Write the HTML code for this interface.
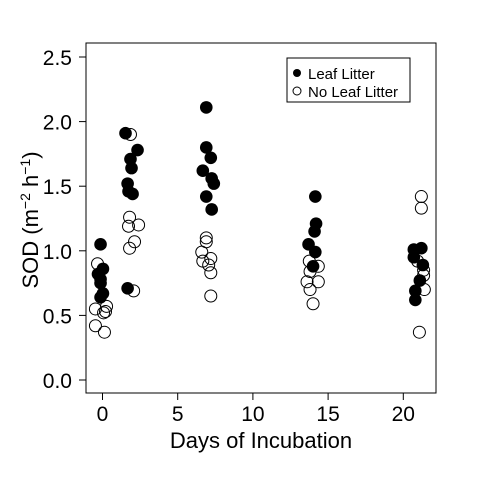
<!DOCTYPE html>
<html><head><meta charset="utf-8"><style>
body{margin:0;background:#fff}
svg{display:block;font-family:"Liberation Sans",Arial,sans-serif}
</style></head><body>
<svg id="chart" width="480" height="480">
<rect x="86" y="43" width="350" height="350" fill="none" stroke="#000" stroke-width="1"/>
<g id="xaxis"></g>
<g id="yaxis"></g>
<text x="261" y="448" font-size="22" text-anchor="middle">Days of Incubation</text>
<text transform="translate(38,220) rotate(-90)" font-size="22" text-anchor="middle">SOD (m<tspan dy="-8" font-size="14">−2</tspan><tspan dy="8"> h</tspan><tspan dy="-8" font-size="14">−1</tspan><tspan dy="8">)</tspan></text>
<g id="pts"></g>
<g>
<rect x="287" y="58" width="123" height="44" fill="#fff" stroke="#000"/>
<circle cx="297" cy="73" r="4" fill="#000"/>
<text x="308" y="79" font-size="15">Leaf Litter</text>
<circle cx="297" cy="91" r="4" fill="#fff" stroke="#000"/>
<text x="308" y="97" font-size="15">No Leaf Litter</text>
</g>
</svg>
<script>
const xTicks=[0,5,10,15,20];
const yTicks=[0,0.5,1,1.5,2,2.5];
const yTickLabels=["0.0","0.5","1.0","1.5","2.0","2.5"];
const leafDays=[-0.13,-0.3,-0.13,0.03,-0.13,0.03,-0.13, 1.53,2.33,1.86,1.93,1.67,1.73,2.0,1.67, 6.9,6.9,7.2,6.67,7.26,7.4,6.9,7.26, 14.15,14.2,14.1,13.7,14.15,14.0, 20.7,21.2,20.7,21.3,21.1,20.8,20.8];
const leafSOD=[1.05,0.82,0.78,0.86,0.75,0.67,0.64, 1.91,1.78,1.71,1.64,1.52,1.46,1.44,0.71, 2.11,1.80,1.72,1.62,1.56,1.52,1.42,1.32, 1.42,1.21,1.15,1.05,0.99,0.88, 1.01,1.02,0.95,0.89,0.77,0.69,0.62];
const noLeafDays=[-0.33,-0.47,0.2,0.27,-0.47,0.13,0.07, 1.86,1.8,1.73,2.4,2.13,1.8,2.07, 6.9,6.9,6.6,7.2,6.67,7.06,7.2,7.2, 13.75,14.35,13.8,13.6,14.35,13.8,14.0, 21.2,21.2,20.95,21.35,21.35,21.4,21.07];
const noLeafSOD=[0.90,0.55,0.53,0.57,0.42,0.37,0.52, 1.90,1.26,1.19,1.20,1.07,1.02,0.69, 1.10,1.07,0.99,0.94,0.92,0.89,0.83,0.65, 0.92,0.88,0.84,0.76,0.76,0.70,0.59, 1.42,1.33,0.92,0.85,0.81,0.70,0.37];
const NS="http://www.w3.org/2000/svg";
const xS=d=>102.5+d*15.04;
const yS=v=>380-v*129.2;
function mk(tag,attrs,parent){const e=document.createElementNS(NS,tag);for(const k in attrs)e.setAttribute(k,attrs[k]);parent.appendChild(e);return e;}
const xa=document.getElementById('xaxis'),ya=document.getElementById('yaxis'),pts=document.getElementById('pts');
xTicks.forEach(t=>{
 const l=mk('line',{x1:xS(t),x2:xS(t),y1:393,y2:400,stroke:'#000'},xa);
 
 
 const tx=mk('text',{x:xS(t),y:421,'font-size':21,'text-anchor':'middle'},xa);
 tx.textContent=t;
 
 
});
yTicks.forEach((t,i)=>{
 const l=mk('line',{x1:79,x2:86,y1:yS(t),y2:yS(t),stroke:'#000'},ya);
 
 
 const tx=mk('text',{x:72,y:yS(t)+8,'font-size':21,'text-anchor':'end'},ya);
 tx.textContent=yTickLabels[i];
 
 
});
noLeafDays.forEach((d,i)=>{
 const c=mk('circle',{cx:xS(d),cy:yS(noLeafSOD[i]),r:6,fill:'none',stroke:'#000','stroke-width':1},pts);
 
 
});
leafDays.forEach((d,i)=>{
 const c=mk('circle',{cx:xS(d),cy:yS(leafSOD[i]),r:6.3,fill:'#000'},pts);
 
 
});
</script>
</body></html>
